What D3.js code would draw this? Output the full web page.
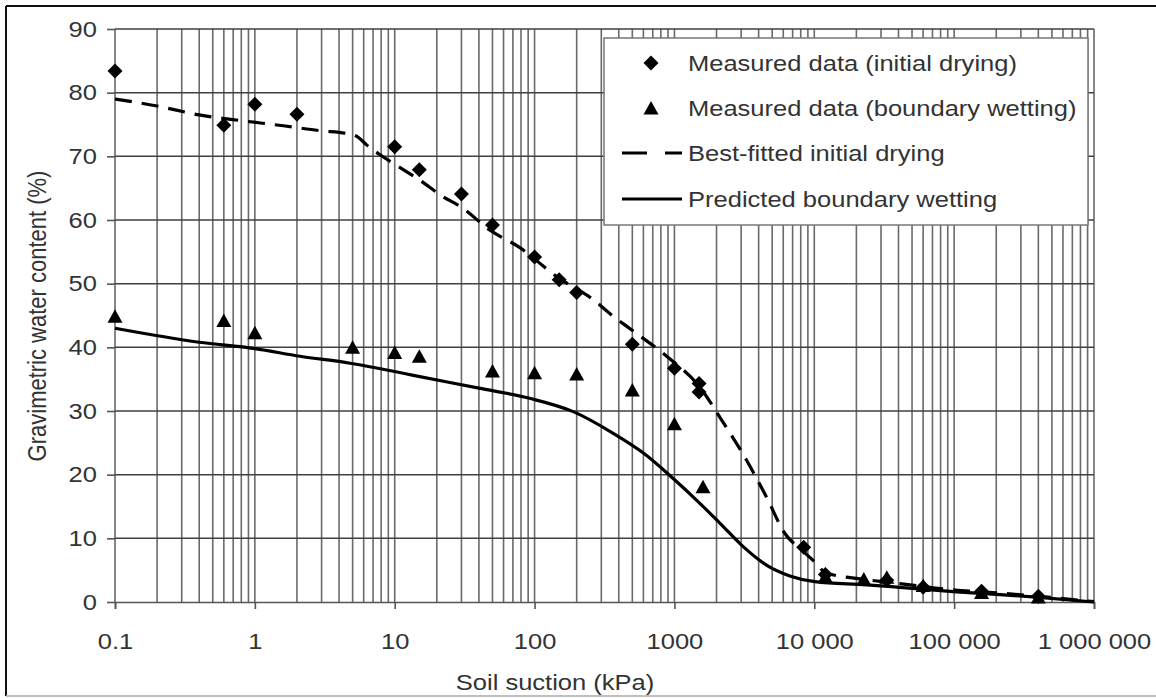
<!DOCTYPE html>
<html>
<head>
<meta charset="utf-8">
<script src="https://cdn.jsdelivr.net/npm/d3@7"></script>
<style>
  html, body { margin: 0; padding: 0; background: #fff; }
  svg { display: block; font-family: "Liberation Sans", Arial, Helvetica, sans-serif; }
</style>
</head>
<body>
<svg id="chart" width="1156" height="698"></svg>
<script>
// ---- Data ----
const dryingSuction = [0.1, 0.6, 1, 2, 10, 15, 30, 50, 100, 150, 200, 500, 1000, 1500, 1500, 8400, 12000, 33000, 60000, 157000, 400000];
const dryingWater   = [83.4, 74.9, 78.2, 76.6, 71.5, 67.9, 64.1, 59.2, 54.2, 50.6, 48.6, 40.5, 36.7, 34.3, 33.0, 8.6, 4.3, 3.4, 2.3, 1.7, 0.9];

const wettingSuction = [0.1, 0.6, 1, 5, 10, 15, 50, 100, 200, 500, 1000, 1600, 12000, 22600, 33000, 60000, 157000, 400000];
const wettingWater   = [44.9, 44.2, 42.3, 40.0, 39.2, 38.6, 36.3, 36.0, 35.8, 33.3, 28.0, 18.1, 4.0, 3.6, 3.9, 2.6, 1.5, 0.8];

const fitDryingSuction = [0.1, 0.2, 0.4, 0.8, 1.6, 3, 4.5, 5.4, 6.3, 8.3, 11, 15, 22, 30, 48, 78, 144, 270, 345, 490, 880, 1500, 2230, 3100, 4550, 6150, 8300, 10400, 12000, 22000, 40800, 98000, 212000, 1000000];
const fitDryingWater   = [79.0, 77.9, 76.5, 75.6, 74.8, 74.0, 73.6, 73.1, 71.8, 69.9, 68.2, 66.3, 63.7, 62.0, 58.4, 55.7, 51.1, 47.3, 45.3, 42.8, 38.6, 33.9, 28.2, 23.2, 16.5, 10.8, 8.0, 6.0, 4.6, 3.6, 2.9, 1.9, 1.4, 0.05];

const predWettingSuction = [0.1, 0.4, 1, 2.1, 4.8, 10, 13.6, 40, 92, 189, 365, 600, 980, 1520, 2110, 3100, 4550, 6680, 10100, 23600, 40800, 104000, 366000, 1000000];
const predWettingWater   = [43.0, 40.8, 39.8, 38.6, 37.5, 36.2, 35.6, 33.6, 32.0, 29.9, 26.5, 23.4, 19.4, 15.5, 12.4, 8.7, 5.8, 4.1, 3.2, 2.7, 2.3, 1.6, 0.8, 0.0];

const xTickValues = [0.1, 1, 10, 100, 1000, 10000, 100000, 1000000];
const xTickLabels = ["0.1", "1", "10", "100", "1000", "10 000", "100 000", "1 000 000"];
const yTickValues = [0, 10, 20, 30, 40, 50, 60, 70, 80, 90];

const legendLabels = ["Measured data (initial drying)", "Measured data (boundary wetting)", "Best-fitted initial drying", "Predicted boundary wetting"];

const xTitle = "Soil suction (kPa)";
const yTitle = "Gravimetric water content (%)";

// ---- Layout ----
const svg = d3.select("#chart");
const plotLeft = 115, plotRight = 1094, plotTop = 29, plotBottom = 602;
const textColor = "#333";
const gridColor = "#6a6a6a";
const fontSize = "22px";
const sx = 1.16; // horizontal text stretch seen in the reference

const x = d3.scaleLog().domain([0.1, 1000000]).range([plotLeft, plotRight]);
const y = d3.scaleLinear().domain([0, 90]).range([plotBottom, plotTop]);

// outer frame
svg.append("line").attr("x1", 6).attr("y1", 6).attr("x2", 1156).attr("y2", 6).attr("stroke", "#111").attr("stroke-width", 2);
svg.append("line").attr("x1", 6).attr("y1", 6).attr("x2", 6).attr("y2", 696).attr("stroke", "#111").attr("stroke-width", 2);
svg.append("line").attr("x1", 6).attr("y1", 696).attr("x2", 1156).attr("y2", 696).attr("stroke", "#aaa").attr("stroke-width", 1.5);

// vertical grid (minor + major)
const minorX = [];
for (let e = -1; e < 6; e++) {
  for (let m = 1; m <= 9; m++) minorX.push(m * Math.pow(10, e));
}
minorX.push(1000000);
svg.append("g").selectAll("line").data(minorX).join("line")
  .attr("x1", d => x(d)).attr("x2", d => x(d))
  .attr("y1", plotTop).attr("y2", plotBottom)
  .attr("stroke", gridColor).attr("stroke-width", 1.6);

// horizontal grid
svg.append("g").selectAll("line").data(yTickValues.filter(d => d > 0)).join("line")
  .attr("x1", plotLeft).attr("x2", plotRight)
  .attr("y1", d => y(d)).attr("y2", d => y(d))
  .attr("stroke", "#404040").attr("stroke-width", 1.5);

// axes
const xAxis = d3.axisBottom(x).tickValues(xTickValues).tickFormat((d, i) => xTickLabels[i]).tickSize(7).tickPadding(24);
const gx = svg.append("g").attr("transform", `translate(0,${plotBottom})`).call(xAxis);
gx.select(".domain").attr("stroke", "#555").attr("stroke-width", 1.6);
gx.selectAll(".tick line").attr("stroke", "#555").attr("stroke-width", 1.6);
gx.selectAll("text").attr("fill", textColor).style("font-size", fontSize)
  .style("font-family", "Liberation Sans, Arial, sans-serif")
  .attr("transform", `scale(${sx},1)`);

const yAxis = d3.axisLeft(y).tickValues(yTickValues).tickSize(8).tickPadding(10);
const gy = svg.append("g").attr("transform", `translate(${plotLeft},0)`).call(yAxis);
gy.select(".domain").remove();
gy.selectAll(".tick line").attr("stroke", "#555").attr("stroke-width", 1.6);
gy.selectAll("text").attr("fill", textColor).style("font-size", fontSize)
  .style("font-family", "Liberation Sans, Arial, sans-serif")
  .attr("x", 0).attr("transform", `translate(-18,0) scale(${sx},1)`);

// axis titles
svg.append("text").attr("transform", `translate(555,690) scale(${sx},1)`).attr("text-anchor", "middle")
  .attr("fill", textColor).style("font-size", fontSize).text(xTitle);
svg.append("text").attr("transform", `translate(46,316) scale(${sx},1) rotate(-90)`).attr("text-anchor", "middle")
  .attr("fill", textColor).style("font-size", fontSize).text(yTitle);

// curves
const lineGen = (xs, ys) => d3.line().x((d, i) => x(xs[i])).y((d, i) => y(ys[i])).curve(d3.curveMonotoneX)(xs);

svg.append("path").attr("d", lineGen(predWettingSuction, predWettingWater))
  .attr("fill", "none").attr("stroke", "#000").attr("stroke-width", 3.2);
svg.append("path").attr("d", lineGen(fitDryingSuction, fitDryingWater))
  .attr("fill", "none").attr("stroke", "#000").attr("stroke-width", 3.2).attr("stroke-dasharray", "17,10");

// markers
const diamondPath = "M0,-7.5L7.5,0L0,7.5L-7.5,0Z";
const trianglePath = "M0,-7L7.5,6.5L-7.5,6.5Z";

svg.append("g").selectAll("path").data(wettingSuction).join("path")
  .attr("d", trianglePath)
  .attr("transform", (d, i) => `translate(${x(d)},${y(wettingWater[i])})`)
  .attr("fill", "#000");
svg.append("g").selectAll("path").data(dryingSuction).join("path")
  .attr("d", diamondPath)
  .attr("transform", (d, i) => `translate(${x(d)},${y(dryingWater[i])})`)
  .attr("fill", "#000");

// legend
const lg = svg.append("g");
lg.append("rect").attr("x", 604).attr("y", 38).attr("width", 484).attr("height", 187)
  .attr("fill", "#fff").attr("stroke", "#777").attr("stroke-width", 1.5);
const rowY = [63, 108, 153, 199];
lg.append("path").attr("d", diamondPath).attr("transform", `translate(651,${rowY[0]})`).attr("fill", "#000");
lg.append("path").attr("d", trianglePath).attr("transform", `translate(651,${rowY[1]})`).attr("fill", "#000");
lg.append("line").attr("x1", 622).attr("x2", 682).attr("y1", rowY[2]).attr("y2", rowY[2])
  .attr("stroke", "#000").attr("stroke-width", 3).attr("stroke-dasharray", "25,18");
lg.append("line").attr("x1", 622).attr("x2", 682).attr("y1", rowY[3]).attr("y2", rowY[3])
  .attr("stroke", "#000").attr("stroke-width", 3);
lg.selectAll("text.lbl").data(legendLabels).join("text").attr("class", "lbl")
  .attr("transform", (d, i) => `translate(688,${rowY[i] + 8}) scale(${sx},1)`)
  .attr("fill", textColor).style("font-size", fontSize).text(d => d);
</script>
</body>
</html>
